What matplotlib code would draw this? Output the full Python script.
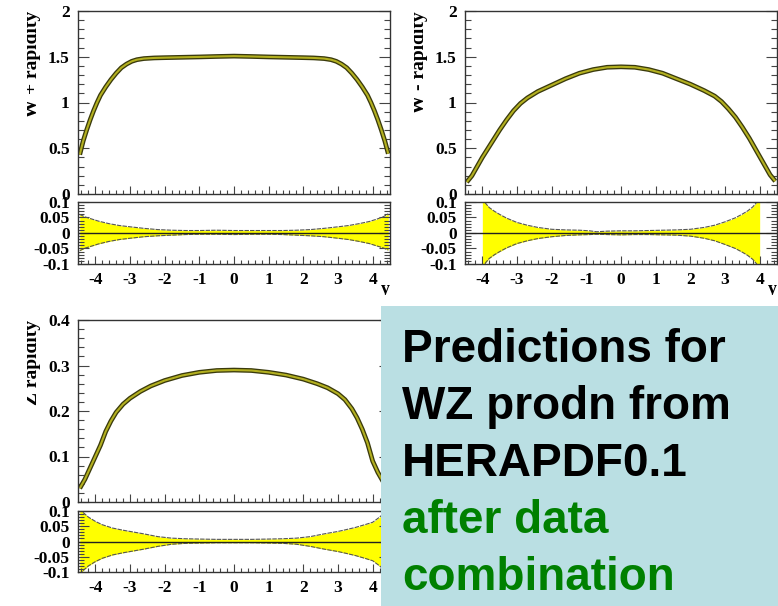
import matplotlib
matplotlib.use("Agg")
import matplotlib.pyplot as plt
from matplotlib.patches import Rectangle
from matplotlib.ticker import MultipleLocator
from matplotlib.transforms import Bbox, TransformedBbox

# -------- data --------
# W+ rapidity distribution
wp_x = [-4.45, -4.35, -4.25, -4.15, -4.05, -3.95, -3.85, -3.7, -3.55, -3.4, -3.25,
        -3.1, -2.95, -2.8, -2.6, -2.3, -2.0, -1.5, -1.0, -0.5, 0.0,
        0.5, 1.0, 1.5, 2.0, 2.3, 2.6, 2.8, 2.95, 3.1, 3.25, 3.4, 3.55, 3.7,
        3.85, 3.95, 4.05, 4.15, 4.25, 4.35, 4.45]
wp_y = [0.43, 0.58, 0.70, 0.81, 0.91, 1.00, 1.08, 1.17, 1.25, 1.32, 1.38,
        1.42, 1.45, 1.468, 1.48, 1.487, 1.49, 1.494, 1.498, 1.503, 1.507,
        1.503, 1.498, 1.494, 1.49, 1.487, 1.48, 1.468, 1.45, 1.42, 1.38, 1.32, 1.25, 1.17,
        1.08, 1.00, 0.91, 0.81, 0.70, 0.58, 0.44]

# W- rapidity distribution
wm_x = [-4.45, -4.3, -4.15, -4.0, -3.85, -3.7, -3.5, -3.3, -3.1, -2.9, -2.7, -2.4,
        -2.0, -1.6, -1.2, -0.8, -0.4, 0.0,
        0.4, 0.8, 1.2, 1.6, 2.0, 2.4, 2.7, 2.9, 3.1, 3.3, 3.5, 3.7, 3.85, 4.0,
        4.15, 4.3, 4.45]
wm_y = [0.13, 0.20, 0.30, 0.40, 0.49, 0.58, 0.70, 0.81, 0.91, 0.99, 1.05, 1.12,
        1.19, 1.26, 1.32, 1.36, 1.385, 1.39,
        1.385, 1.36, 1.32, 1.26, 1.20, 1.13, 1.07, 1.01, 0.93, 0.84, 0.73, 0.61, 0.51, 0.41,
        0.31, 0.21, 0.14]

# Z rapidity distribution
z_x = [-4.45, -4.3, -4.15, -4.0, -3.85, -3.7, -3.55, -3.4, -3.2, -3.0, -2.7, -2.4,
       -2.0, -1.5, -1.0, -0.5, 0.0,
       0.5, 1.0, 1.5, 2.0, 2.4, 2.7, 3.0, 3.2, 3.4, 3.55, 3.7, 3.85, 4.0,
       4.15, 4.3, 4.45]
z_y = [0.03, 0.05, 0.075, 0.10, 0.125, 0.155, 0.178, 0.197, 0.215, 0.228, 0.243, 0.255,
       0.267, 0.278, 0.285, 0.289, 0.290,
       0.289, 0.285, 0.279, 0.270, 0.260, 0.251, 0.238, 0.225, 0.205, 0.185, 0.160, 0.130, 0.09,
       0.065, 0.045, 0.025]

# fractional uncertainty bands
wp_rx = [-4.45, -4.3, -4.1, -3.9, -3.6, -3.3, -3.0, -2.6, -2.2, -1.8, -1.4, -1.0, -0.5, 0.0,
         0.5, 1.0, 1.4, 1.8, 2.2, 2.6, 3.0, 3.3, 3.6, 3.9, 4.1, 4.3, 4.45]
wp_hi = [0.060, 0.052, 0.045, 0.038, 0.030, 0.024, 0.020, 0.015, 0.011, 0.009, 0.008, 0.008, 0.009, 0.008,
         0.008, 0.008, 0.008, 0.009, 0.011, 0.015, 0.020, 0.024, 0.030, 0.037, 0.044, 0.052, 0.062]
wp_lo = [-0.057, -0.049, -0.042, -0.035, -0.027, -0.021, -0.017, -0.012, -0.009, -0.007, -0.005, -0.004, -0.004, -0.005,
         -0.004, -0.004, -0.005, -0.007, -0.009, -0.012, -0.017, -0.021, -0.027, -0.034, -0.041, -0.048, -0.055]

wm_rx = [-4.0, -3.9, -3.8, -3.65, -3.5, -3.3, -3.0, -2.7, -2.4, -2.0, -1.6, -1.2, -0.9, -0.7, -0.4, 0.0,
         0.4, 0.8, 1.2, 1.6, 2.0, 2.4, 2.7, 3.0, 3.3, 3.5, 3.65, 3.8, 3.9, 4.0]
wm_hi = [0.115, 0.095, 0.082, 0.070, 0.060, 0.048, 0.034, 0.025, 0.018, 0.012, 0.010, 0.009, 0.007, 0.004, 0.006, 0.007,
         0.007, 0.008, 0.009, 0.010, 0.012, 0.018, 0.025, 0.036, 0.049, 0.061, 0.071, 0.084, 0.097, 0.115]
wm_lo = [-0.115, -0.095, -0.082, -0.070, -0.060, -0.048, -0.034, -0.025, -0.018, -0.012, -0.008, -0.006, -0.005, -0.004, -0.005, -0.006,
         -0.005, -0.005, -0.006, -0.007, -0.010, -0.017, -0.025, -0.037, -0.050, -0.062, -0.072, -0.085, -0.098, -0.115]

z_rx = [-4.45, -4.35, -4.2, -4.0, -3.8, -3.5, -3.2, -3.0, -2.6, -2.2, -1.8, -1.4, -1.0, -0.5, 0.0,
        0.5, 1.0, 1.4, 1.8, 2.2, 2.6, 3.0, 3.2, 3.5, 3.8, 4.0, 4.2, 4.35, 4.45]
z_hi = [0.110, 0.095, 0.080, 0.066, 0.055, 0.044, 0.037, 0.033, 0.025, 0.016, 0.011, 0.009, 0.008, 0.007, 0.007,
        0.007, 0.008, 0.009, 0.011, 0.016, 0.025, 0.033, 0.038, 0.046, 0.056, 0.063, 0.080, 0.095, 0.110]
z_lo = [-0.110, -0.095, -0.080, -0.066, -0.055, -0.044, -0.037, -0.033, -0.025, -0.016, -0.009, -0.006, -0.005, -0.004, -0.004,
        -0.004, -0.005, -0.006, -0.009, -0.016, -0.025, -0.033, -0.038, -0.046, -0.056, -0.063, -0.080, -0.095, -0.110]

x_ticks = [-4, -3, -2, -1, 0, 1, 2, 3, 4]
r_ticks = [-0.1, -0.05, 0, 0.05, 0.1]
r_labels = ["-0.1", "-0.05", "0", "0.05", "0.1"]

note_lines = [("Predictions for", "black"), ("WZ prodn from", "black"),
              ("HERAPDF0.1", "black"), ("after data", "#008000"), ("combination", "#008000")]

# -------- style --------
plt.rcParams["font.family"] = ["Liberation Serif", "DejaVu Serif"]
plt.rcParams["font.weight"] = "bold"
plt.rcParams["axes.unicode_minus"] = False

W, H = 778, 606
fig = plt.figure(figsize=(W / 100, H / 100), dpi=100)
FRAME = "#333333"
BAND = "#ffff00"


def rect(l, t, r, b):
    return [l / W, 1 - b / H, (r - l) / W, (b - t) / H]


def frame(ax):
    for s in ax.spines.values():
        s.set_color(FRAME)
        s.set_linewidth(1.0)
    ax.tick_params(which="both", direction="in", top=False, right=True,
                   color="#444444", labelsize=12.5, width=0.8)
    ax.tick_params(axis="x", which="major", length=6, pad=6)
    ax.tick_params(axis="x", which="minor", length=3)
    ax.tick_params(axis="y", which="major", length=8, pad=6)
    ax.tick_params(axis="y", which="minor", length=4)
    ax.set_xlim(-4.5, 4.5)
    ax.xaxis.set_major_locator(MultipleLocator(1))
    ax.xaxis.set_minor_locator(MultipleLocator(0.2))


def main_panel(box, x, y, ymax, major, minor):
    ax = fig.add_axes(rect(*box))
    frame(ax)
    ax.plot(x, y, color="#3a3a0c", lw=3.4, solid_capstyle="butt")
    ax.plot(x, y, color="#b3b020", lw=1.5, solid_capstyle="butt")
    ax.set_ylim(0, ymax)
    ax.yaxis.set_major_locator(MultipleLocator(major))
    ax.yaxis.set_minor_locator(MultipleLocator(minor))
    ax.yaxis.set_major_formatter(plt.FuncFormatter(lambda v, p: f"{v:g}"))
    ax.tick_params(labelbottom=False)
    return ax


def ratio_panel(box, x, hi, lo):
    ax = fig.add_axes(rect(*box))
    frame(ax)
    ax.fill_between(x, lo, hi, color=BAND, lw=0)
    ax.plot(x, hi, color="#555555", lw=0.8, ls=(0, (4, 1)))
    ax.plot(x, lo, color="#555555", lw=0.8, ls=(0, (4, 1)))
    ax.axhline(0, color="#222222", lw=1.0)
    ax.set_ylim(-0.1, 0.1)
    ax.set_yticks(r_ticks, r_labels)
    ax.yaxis.set_minor_locator(MultipleLocator(0.01))
    ax.set_xticks(x_ticks, [str(v) for v in x_ticks])
    return ax


def clipped_text(x, y, s, clip, **kw):
    t = fig.text(x / W, 1 - y / H, s, **kw)
    l, tp, r, b = clip
    t.set_clip_box(TransformedBbox(Bbox.from_extents(l / W, 1 - b / H, r / W, 1 - tp / H),
                                   fig.transFigure))
    t.set_clip_on(True)
    return t


# -------- panels --------
main_panel((78, 11, 390, 194), wp_x, wp_y, 2, 0.5, 0.1)
ratio_panel((78, 202, 390, 264), wp_rx, wp_hi, wp_lo)

main_panel((465, 11, 777, 194), wm_x, wm_y, 2, 0.5, 0.1)
ratio_panel((465, 202, 777, 264), wm_rx, wm_hi, wm_lo)

main_panel((78, 320, 390, 502), z_x, z_y, 0.4, 0.1, 0.02)
ratio_panel((78, 511, 390, 572), z_rx, z_hi, z_lo)

# axis titles (top of the glyphs trimmed at the page edge)
lab = dict(rotation=90, rotation_mode="anchor", ha="right", va="baseline", fontsize=14)
clipped_text(37, 11, "W + rapidity", (27, 0, 60, 300), **lab)
clipped_text(424, 11, "W - rapidity", (414, 0, 447, 300), **lab)
clipped_text(37, 320, "Z rapidity", (27, 300, 60, 606), **lab)

xl = dict(ha="center", va="baseline", fontsize=13)
clipped_text(385, 294, "y", (370, 270, 400, 295), **xl)
clipped_text(772, 294, "y", (757, 270, 778, 295), **xl)

# -------- note box --------
fig.add_artist(Rectangle((381 / W, 0), (W - 381) / W, (606 - 306) / H,
                         transform=fig.transFigure, facecolor="#badfe3",
                         edgecolor="none", zorder=5))
for i, (line, col) in enumerate(note_lines):
    fig.text(402 / W, 1 - (362 + 57 * i) / H, line, color=col, fontsize=33,
             family="Liberation Sans", weight="bold", va="baseline", zorder=6)

fig.savefig("out.png", dpi=100)
